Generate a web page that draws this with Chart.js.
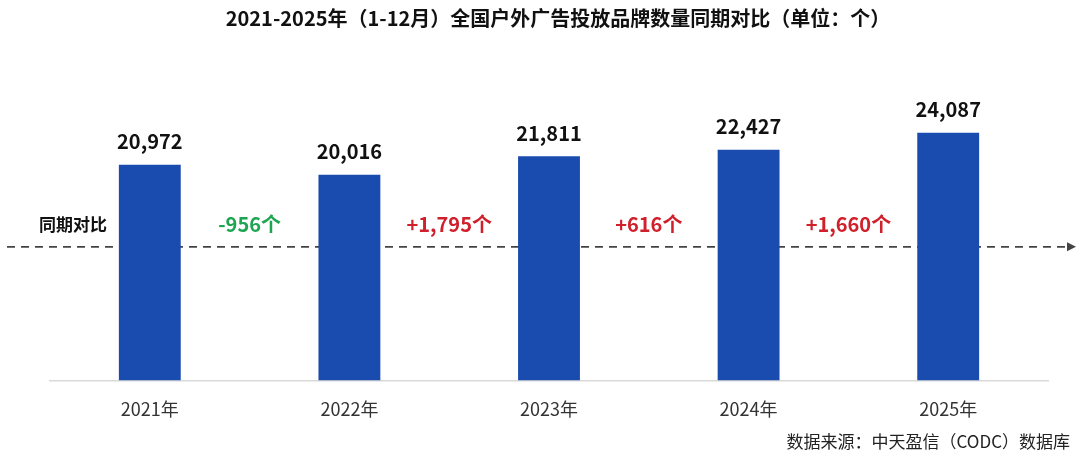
<!DOCTYPE html>
<html>
<head>
<meta charset="utf-8">
<script src="https://cdn.jsdelivr.net/npm/chart.js@4/dist/chart.umd.min.js"></script>
<style>
  html, body { margin: 0; padding: 0; background: #fff; }
  #wrap { width: 1080px; height: 459px; position: relative; }
</style>
</head>
<body>
<div id="wrap"><canvas id="brandChart"></canvas></div>
<script>
// データ
const years = ['2021年', '2022年', '2023年', '2024年', '2025年'];
const brandCounts = [20972, 20016, 21811, 22427, 24087];

const titleText = '2021-2025年（1-12月）全国户外广告投放品牌数量同期对比（单位：个）';
const sourceText = '数据来源：中天盈信（CODC）数据库';
const compareLabel = '同期对比';

const FONT = '"Noto Sans CJK SC", "Noto Sans", sans-serif';
const BAR_COLOR = '#1a4cb0';
const UP_COLOR = '#d0202b';
const DOWN_COLOR = '#1ea552';

function fmt(n) {
    return n.toLocaleString('en-US');
}

// 破線の高さ（グラフ領域の割合）
function compareY(chartArea) {
    return chartArea.bottom - (chartArea.bottom - chartArea.top) * 0.433;
}

// 同期対比の破線と矢印（棒の後ろ）
const compareLinePlugin = {
    id: 'compareLine',
    beforeDatasetsDraw(chart) {
        const { ctx, chartArea } = chart;
        const y = compareY(chartArea);
        ctx.save();
        ctx.strokeStyle = '#444';
        ctx.lineWidth = 1.6;
        ctx.setLineDash([8, 6]);
        ctx.beginPath();
        ctx.moveTo(7, y);
        ctx.lineTo(1068, y);
        ctx.stroke();
        ctx.setLineDash([]);
        ctx.fillStyle = '#444';
        ctx.beginPath();
        ctx.moveTo(1076, y);
        ctx.lineTo(1067, y - 4.5);
        ctx.lineTo(1067, y + 4.5);
        ctx.closePath();
        ctx.fill();

        ctx.fillStyle = '#111';
        ctx.font = 'bold 17px ' + FONT;
        ctx.textAlign = 'center';
        ctx.textBaseline = 'middle';
        ctx.fillText(compareLabel, 73, y - 22);
        ctx.restore();
    }
};

// 数値ラベル、差分ラベル、タイトル、出典
const labelPlugin = {
    id: 'labels',
    afterDatasetsDraw(chart) {
        const { ctx, chartArea } = chart;
        const meta = chart.getDatasetMeta(0);
        const xScale = chart.scales.x;
        const lineY = compareY(chartArea);
        ctx.save();
        ctx.textAlign = 'center';
        ctx.textBaseline = 'middle';

        // 棒の上の値
        ctx.font = 'bold 20px ' + FONT;
        ctx.fillStyle = '#111';
        meta.data.forEach((bar, i) => {
            ctx.fillText(fmt(brandCounts[i]), bar.x, bar.y - 23);
        });

        // 前年との差
        ctx.font = 'bold 20px ' + FONT;
        for (let i = 1; i < brandCounts.length; i++) {
            const diff = brandCounts[i] - brandCounts[i - 1];
            const x = (xScale.getPixelForValue(i - 1) + xScale.getPixelForValue(i)) / 2;
            ctx.fillStyle = diff < 0 ? DOWN_COLOR : UP_COLOR;
            const txt = (diff < 0 ? '-' : '+') + fmt(Math.abs(diff)) + '个';
            ctx.fillText(txt, x, lineY - 22);
        }

        // タイトル
        ctx.fillStyle = '#111';
        ctx.font = 'bold 20px ' + FONT;
        ctx.fillText(titleText, 558, 18);

        // 出典
        ctx.font = '17px ' + FONT;
        ctx.fillStyle = '#222';
        ctx.textAlign = 'right';
        ctx.fillText(sourceText, 1070, 442);
        ctx.restore();
    }
};

const ctx = document.getElementById('brandChart').getContext('2d');
const brandChart = new Chart(ctx, {
    type: 'bar',
    data: {
        labels: years,
        datasets: [{
            data: brandCounts,
            backgroundColor: BAR_COLOR,
            borderWidth: 0,
            categoryPercentage: 1.0,
            barPercentage: 0.31
        }]
    },
    options: {
        responsive: true,
        maintainAspectRatio: false,
        animation: false,
        layout: {
            padding: { top: 72, left: 50, right: 32, bottom: 29 }
        },
        plugins: {
            legend: { display: false },
            title: { display: false },
            tooltip: { enabled: false }
        },
        scales: {
            x: {
                grid: { display: false },
                border: { display: true, color: '#d9d9d9', width: 1.5 },
                ticks: {
                    color: '#333',
                    font: { family: FONT, size: 18 },
                    padding: 10
                }
            },
            y: {
                display: false,
                min: 0,
                max: 30000
            }
        }
    },
    plugins: [compareLinePlugin, labelPlugin]
});
</script>
</body>
</html>
